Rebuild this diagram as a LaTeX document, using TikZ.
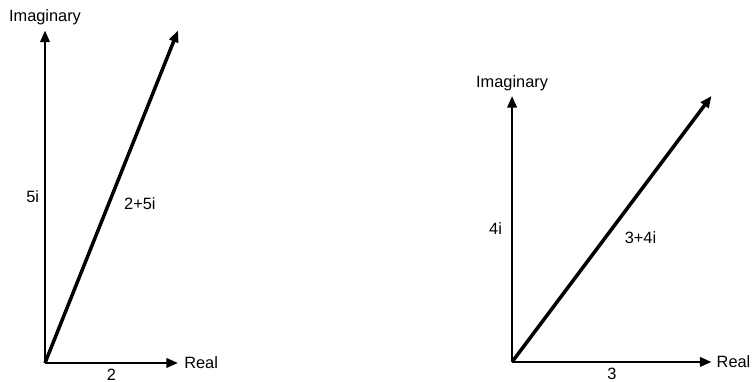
\documentclass[tikz,border=0pt]{standalone}
\usepackage{fontspec}
\setmainfont{Liberation Sans}
\usetikzlibrary{arrows.meta,positioning,calc}
\tikzset{
  axis/.style={-{Triangle[length=5pt,width=4pt]},line width=1.1pt},
  vec/.style={axis,line width=1.5pt},
  lbl/.style={font=\fontsize{7}{8}\selectfont,inner sep=2pt},
}
\begin{document}
\begin{tikzpicture}
\useasboundingbox (0,0) rectangle (11.308,5.744);
% left plane: 2+5i
\coordinate (o1) at (0.677,0.286);
\coordinate (re1) at ($(o1)+(2,0)$);
\coordinate (im1) at ($(o1)+(0,5)$);
\coordinate (z1) at ($(o1)+(2,5)$);
\draw[axis] (o1) -- node[lbl,below=0pt] (x1) {2} (re1);
\draw[axis] (o1) -- node[lbl,left=0pt] (y1) {5i} (im1);
\draw[vec] (o1) -- node[lbl,pos=0.48,right=3.8pt] (z1lbl) {2+5i} (z1);
\node[lbl,above=0pt of im1] (im1lbl) {Imaginary};
\node[lbl,right=0.5pt of re1] (re1lbl) {Real};
% right plane: 3+4i
\coordinate (o2) at (7.70,0.301);
\coordinate (re2) at ($(o2)+(3,0)$);
\coordinate (im2) at ($(o2)+(0,4)$);
\coordinate (z2) at ($(o2)+(3,4)$);
\draw[axis] (o2) -- node[lbl,below=0pt] (x2) {3} (re2);
\draw[axis] (o2) -- node[lbl,left=1.8pt] (y2) {4i} (im2);
\draw[vec] (o2) -- node[lbl,pos=0.466,right=5.7pt] (z2lbl) {3+4i} (z2);
\node[lbl,above=0pt of im2] (im2lbl) {Imaginary};
\node[lbl,right=0pt of re2] (re2lbl) {Real};
\end{tikzpicture}
\end{document}
